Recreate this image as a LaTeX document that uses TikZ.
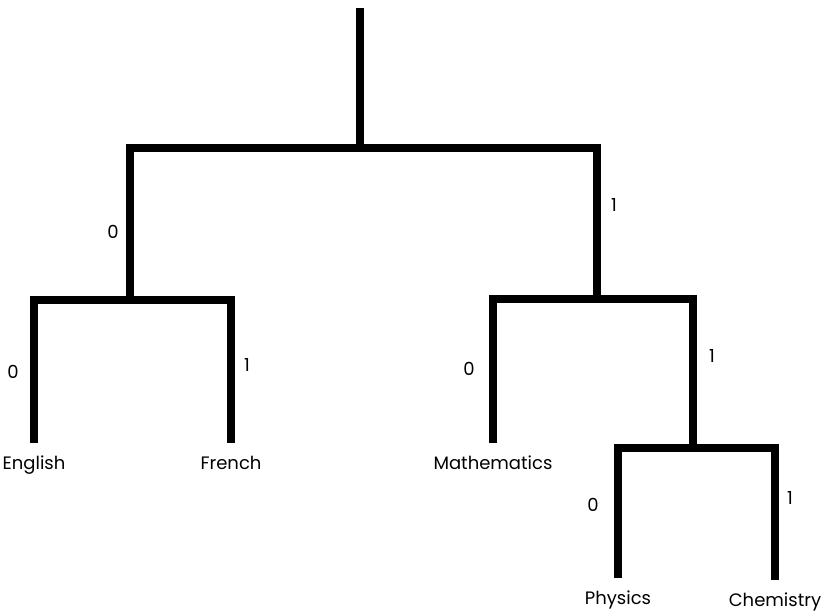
\documentclass[tikz,border=0pt]{standalone}
\usepackage{fontspec}
\setmainfont{Poppins}
\usetikzlibrary{positioning}

\tikzset{%
        every node/.style = {font = \fontsize{18}{20}\selectfont},
        branch/.style = {draw = black, line width = 7.5pt, line join = miter},
        leaf/.style = {inner xsep = 3pt, inner ysep = 13pt, anchor = north},
        bit/.style = {inner sep = 0pt}
    }

\begin{document}
\begin{tikzpicture}[x = 1pt, y = -1pt]
				\useasboundingbox (0,0) rectangle (821,614);
				% junctions
				\coordinate						(top)			at (360,8);
				\coordinate						(root)			at (360,148);
				\coordinate						(lang)			at (130,300);
				\coordinate						(sci)			at (597,299);
				\coordinate						(nat)			at (693,448);
				% leaves
				\node[leaf]						(english)		at (34,443)		{English};
				\node[leaf]						(french)		at (231,443)	{French};
				\node[leaf]						(maths)		at (493,443)	{Mathematics};
				\node[leaf]						(physics)		at (618,578)	{Physics};
				\node[leaf]						(chemistry)	at (775,580)	{Chemistry};
				% branches
				\draw[branch]	(top) -- (root);
				\draw[branch]	(lang) |- (root) -| (sci);
				\draw[branch]	(english) |- (lang) -| (french);
				\draw[branch]	(maths) |- (sci) -| (nat);
				\draw[branch]	(physics) |- (nat) -| (chemistry);
				% bits
				\node[bit]						(b-lang)		at (113,232)	{0};
				\node[bit]						(b-sci)		at (614,205)	{1};
				\node[bit]						(b-english)	at (13,372)		{0};
				\node[bit]						(b-french)		at (247,365)	{1};
				\node[bit]						(b-maths)		at (469,369)	{0};
				\node[bit]						(b-nat)		at (712,356)	{1};
				\node[bit]						(b-physics)	at (593,505)	{0};
				\node[bit]						(b-chemistry)	at (790,498)	{1};
			\end{tikzpicture}
\end{document}
